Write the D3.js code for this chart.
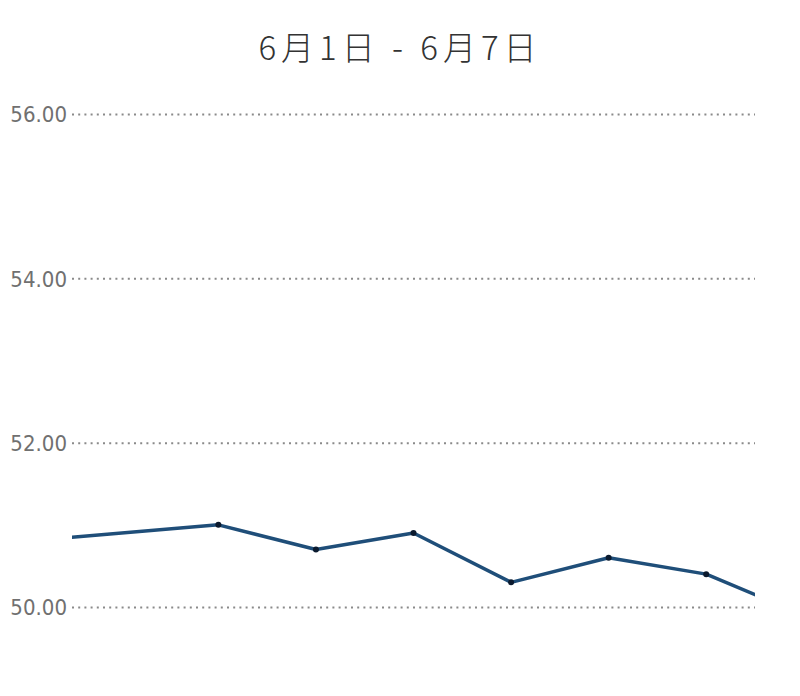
<!DOCTYPE html>
<html>
<head>
<meta charset="utf-8">
<script src="https://cdn.jsdelivr.net/npm/d3@7"></script>
<style>
  html, body { margin: 0; padding: 0; background: #fff; }
  svg { display: block; }
</style>
</head>
<body>
<svg id="chart" width="800" height="696"></svg>
<script>
// ---- data ----
const title = "6月1日 - 6月7日";
const dates = ["2023-05-31T12:00", "2023-06-02T12:00", "2023-06-03T12:00", "2023-06-04T12:00",
               "2023-06-05T12:00", "2023-06-06T12:00", "2023-06-07T12:00", "2023-06-08T12:00"];
const values = [50.8, 51.0, 50.7, 50.9, 50.3, 50.6, 50.4, 49.9];
const yTicks = [50, 52, 54, 56];
const xDomain = ["2023-06-01T00:00", "2023-06-08T00:00"];

const parse = d3.timeParse("%Y-%m-%dT%H:%M");
const data = dates.map((d, i) => ({ date: parse(d), value: values[i] }));

const svg = d3.select("#chart");
const margin = { left: 72, right: 45, top: 114, bottom: 89 };
const W = 800, H = 696;

const x = d3.scaleTime()
  .domain(xDomain.map(parse))
  .range([margin.left, W - margin.right]);
const y = d3.scaleLinear()
  .domain([50, 56])
  .range([H - margin.bottom, margin.top]);

// title
svg.append("text")
  .attr("x", 400)
  .attr("y", 60)
  .attr("text-anchor", "middle")
  .attr("font-family", "'Noto Sans CJK SC', 'Noto Sans', sans-serif")
  .attr("font-size", 33)
  .attr("font-weight", 300)
  .attr("letter-spacing", 5)
  .attr("fill", "#333")
  .text(title);

// y axis with dotted grid
const yAxis = d3.axisLeft(y)
  .tickValues(yTicks)
  .tickFormat(d3.format(".2f"))
  .tickSize(-(W - margin.left - margin.right))
  .tickPadding(5);

const gy = svg.append("g")
  .attr("transform", `translate(${margin.left},0)`)
  .call(yAxis);
gy.select(".domain").remove();
gy.selectAll(".tick line")
  .attr("stroke", "#8a8a8a")
  .attr("stroke-width", 2)
  .attr("stroke-dasharray", "2,4.2");
gy.selectAll(".tick text")
  .attr("fill", "#707070")
  .attr("font-family", "'Liberation Sans Narrow', 'DejaVu Sans Condensed', Roboto, sans-serif")
  .attr("font-size", 22)
  .attr("dy", "0.35em");

// clip
svg.append("defs").append("clipPath").attr("id", "plotclip")
  .append("rect")
  .attr("x", margin.left).attr("y", 0)
  .attr("width", W - margin.left - margin.right)
  .attr("height", H);

const plot = svg.append("g").attr("clip-path", "url(#plotclip)");

const line = d3.line()
  .x(d => x(d.date))
  .y(d => y(d.value));

plot.append("path")
  .datum(data)
  .attr("fill", "none")
  .attr("stroke", "#1f4e79")
  .attr("stroke-width", 3.5)
  .attr("stroke-linejoin", "round")
  .attr("d", line);

plot.selectAll("circle")
  .data(data)
  .join("circle")
  .attr("cx", d => x(d.date))
  .attr("cy", d => y(d.value))
  .attr("r", 3)
  .attr("fill", "#0b1a2e");
</script>
</body>
</html>
